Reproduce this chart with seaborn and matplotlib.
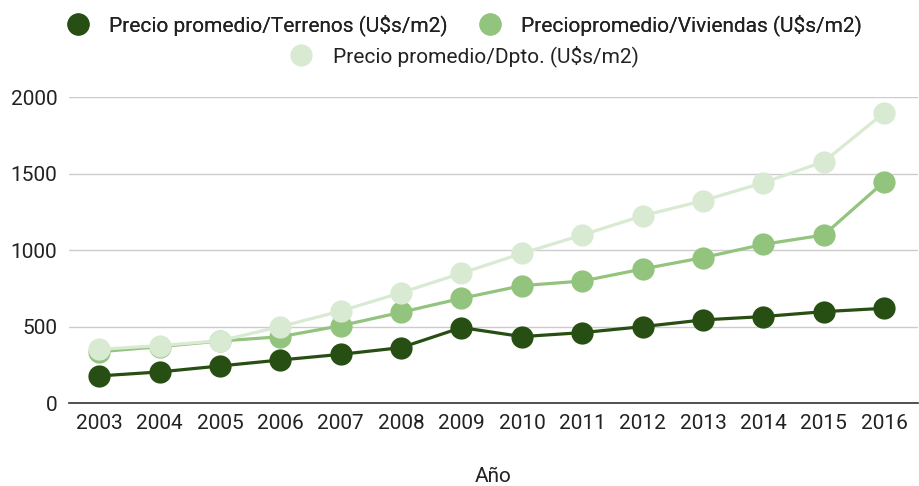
import pandas as pd
import seaborn as sns
import matplotlib.pyplot as plt
from matplotlib.lines import Line2D

years = list(range(2003, 2017))
terrenos = [179, 205, 244, 283, 320, 364, 495, 436, 462, 501, 545, 567, 599, 621]
viviendas = [337, 370, 407, 435, 507, 595, 686, 769, 799, 878, 952, 1039, 1100, 1448]
dpto = [353, 377, 409, 501, 603, 723, 850, 980, 1100, 1226, 1324, 1442, 1579, 1899]

names = ["Precio promedio/Terrenos (U$s/m2)",
         "Preciopromedio/Viviendas (U$s/m2)",
         "Precio promedio/Dpto. (U$s/m2)"]
colors = ["#274e13", "#93c47d", "#d9ead3"]

df = pd.DataFrame({
    "Año": years * 3,
    "valor": terrenos + viviendas + dpto,
    "serie": [names[0]] * 14 + [names[1]] * 14 + [names[2]] * 14,
})

sns.set_style("white")
plt.rcParams['font.family'] = ['Roboto', 'DejaVu Sans']
fs = 15

fig = plt.figure(figsize=(9.19, 4.86), dpi=100)
ax = fig.add_axes([69 / 919, 1 - 403.3 / 486, 849 / 919, 306 / 486])

for name, color in zip(names, colors):
    sns.lineplot(data=df[df["serie"] == name], x="Año", y="valor", color=color,
                 marker="o", markersize=16, markeredgewidth=0, linewidth=2.3,
                 ax=ax, legend=False)

ax.set_xlim(2002.5, 2016.56)
ax.set_ylim(0, 2000)
ax.set_xticks(years)
ax.set_yticks([0, 500, 1000, 1500, 2000])
ax.yaxis.grid(True, color="#cccccc", linewidth=1)
ax.set_axisbelow(True)
for s in ["top", "right", "left"]:
    ax.spines[s].set_visible(False)
ax.spines["bottom"].set_color("#333333")
ax.spines["bottom"].set_linewidth(1.2)
ax.tick_params(axis="both", length=0, labelsize=fs, labelcolor="#222222")
ax.tick_params(axis="x", pad=8)
ax.tick_params(axis="y", pad=8.5)
ax.set_xlabel("Año", fontsize=fs, color="#222222", labelpad=24)
ax.set_ylabel("")

handles = [Line2D([], [], marker="o", linestyle="", markersize=16,
                  markerfacecolor=c, markeredgewidth=0) for c in colors]
leg1 = fig.legend(handles[:2], names[:2], loc="center", bbox_to_anchor=(0.5, 1 - 25 / 486),
                  ncol=2, frameon=False, fontsize=fs, handletextpad=0.5,
                  columnspacing=1.0, labelcolor="#222222")
fig.legend(handles[2:], names[2:], loc="center", bbox_to_anchor=(0.5, 1 - 56 / 486),
           frameon=False, fontsize=fs, handletextpad=0.5, labelcolor="#222222")
fig.add_artist(leg1)

fig.savefig("out.png", dpi=100)
